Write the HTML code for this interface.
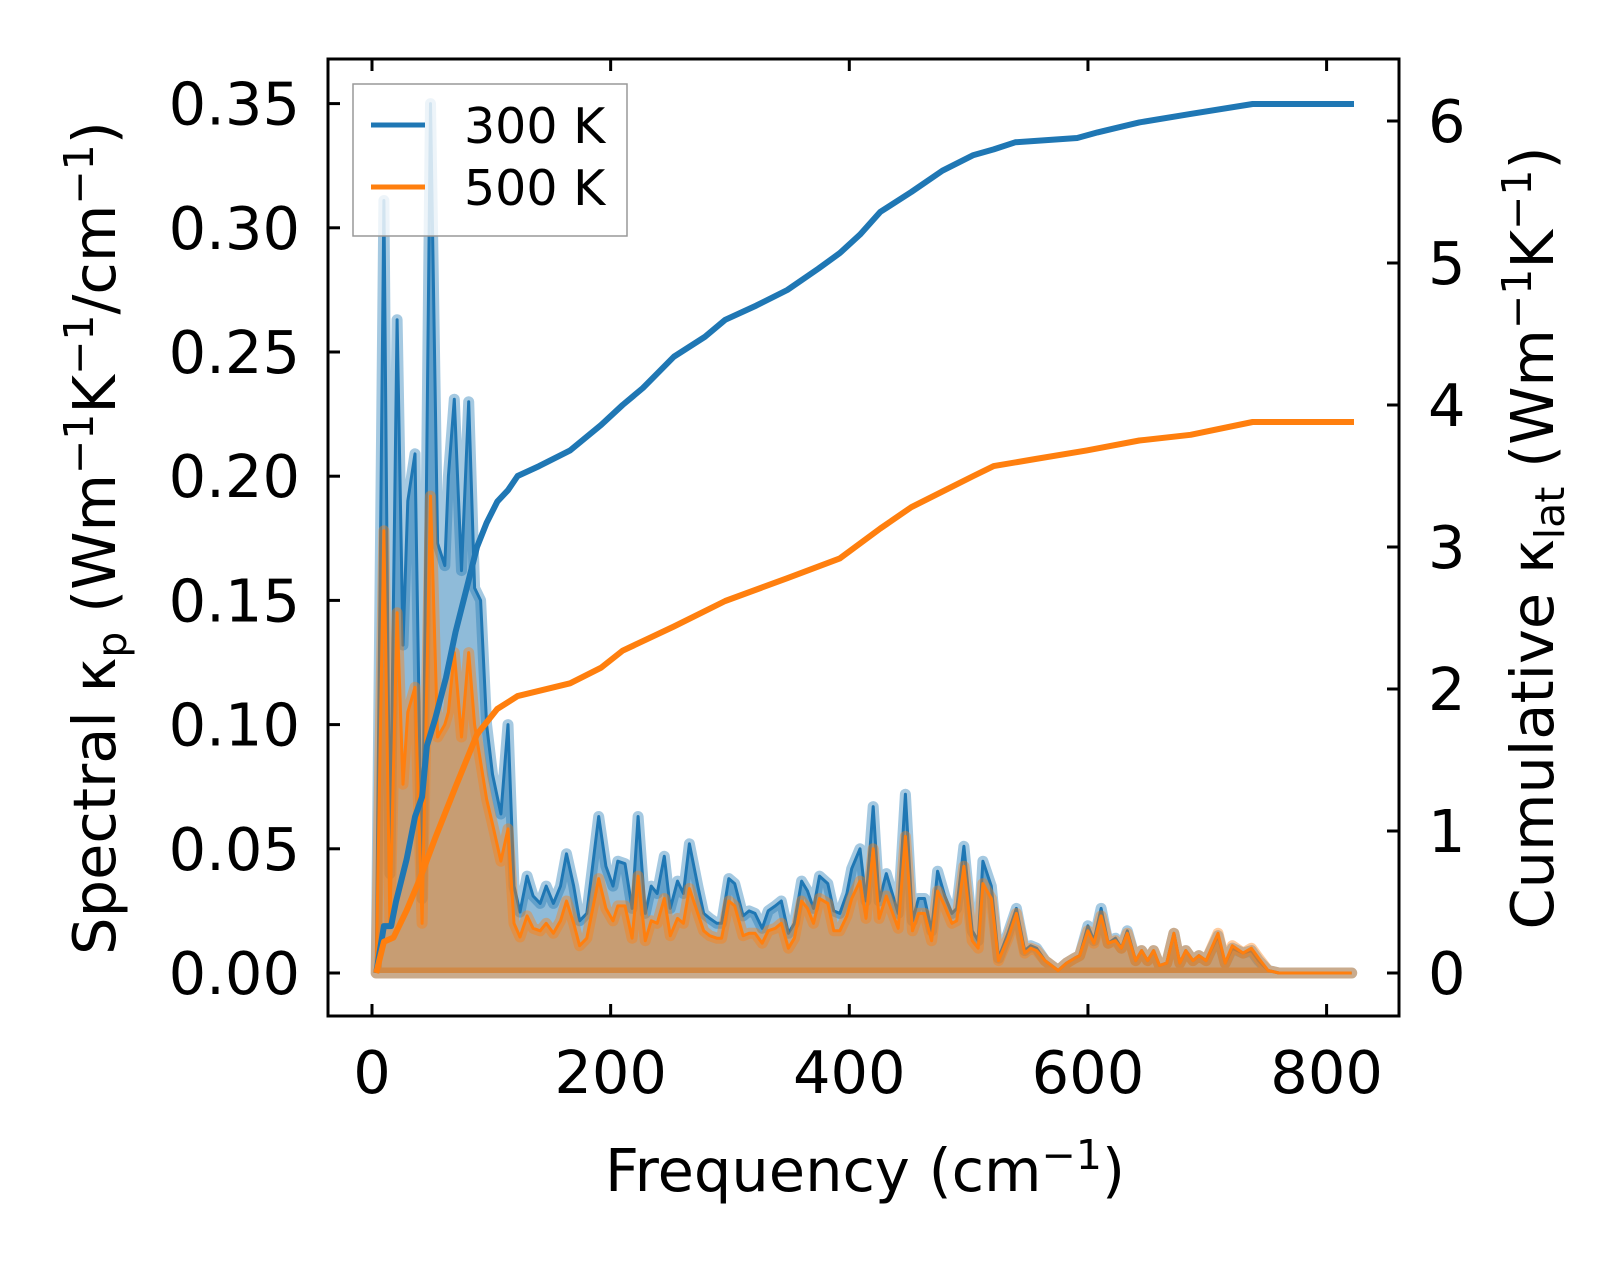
<!DOCTYPE html>
<html><head><meta charset="utf-8"><style>
html,body{margin:0;padding:0;background:#fff}
svg{display:block}
text{font-family:"DejaVu Sans","Liberation Sans",sans-serif;fill:#000}
</style></head><body>
<svg id="chart" width="1623" height="1264" viewBox="0 0 1623 1264" xmlns="http://www.w3.org/2000/svg">
<g id="plot"></g>
<g id="axes"></g>
</svg>
<script>
const freqs = [3.5,10,15,21,26,30,36,42,49,55,61,64,69,75,81,86,91,96,101,108,114,119,
124,130,135,141,146,152,158,163,169,174,180,190,196,202,206,212,218,223,229,234,239,245,250,256,261,266,273,278,283,289,293,299,304,311,316,321,327,332,338,343,349,354,360,365,370,375,382,387,392,398,402,409,414,420,425,431,441,447,453,458,463,469,474,480,486,490,496,503,508,512,519,525,533,540,547,552,557,564,575,582,589,593,600,605,611,617,623,628,633,640,645,650,655,660,666,672,677,682,688,693,699,709,715,721,730,737,743,751,760,821];
const spec300 = [0,0.311,0.04,0.263,0.132,0.19,0.209,0.03,0.35,0.173,0.164,0.2,0.231,0.162,0.23,0.155,0.15,0.1,0.08,0.064,0.1,0.035,
.0245,.039,.031,.028,.035,.028,.035,.048,.035,.021,.024,.063,.043,.035,.045,.044,.026,.063,.024,.035,.032,.047,.026,.037,.032,.052,.035,.024,.022,.020,.020,.038,.036,.023,.025,.024,.018,.025,.027,.029,.016,.020,.037,.033,.026,.039,.036,.025,.024,.032,.042,.050,.029,.067,.029,.040,.024,.072,.021,.030,.030,.017,.041,.031,.024,.026,.051,.017,.013,.045,.035,.006,.016,.026,.009,.011,.010,.005,.001,.004,.006,.007,.019,.013,.026,.012,.014,.010,.017,.005,.009,.005,.009,.003,.004,.016,.004,.009,.005,.007,.005,.015,.004,.010,.008,.009,.005,.001,0,0];
const spec500 = [0,0.178,0.02,0.145,0.076,0.105,0.115,0.02,0.192,0.095,0.1,0.105,0.129,0.095,0.129,0.1,0.085,0.07,0.06,0.045,0.058,0.02,
.0145,.023,.018,.017,.02,.016,.021,.029,.02,.011,.014,.038,.026,.021,.027,.027,.014,.039,.013,.021,.02,.03,.015,.022,.02,.034,.024,.017,.015,.014,.014,.029,.027,.015,.016,.016,.012,.017,.018,.02,.01,.014,.029,.026,.02,.03,.028,.017,.017,.023,.03,.037,.022,.05,.022,.031,.018,.055,.017,.024,.024,.013,.033,.027,.02,.021,.043,.013,.010,.036,.03,.005,.014,.024,.008,.01,.009,.005,.001,.004,.006,.007,.017,.012,.023,.012,.013,.01,.016,.005,.009,.005,.009,.003,.004,.016,.004,.009,.005,.007,.005,.016,.004,.011,.008,.01,.006,.001,0,0];
const cumFreq300 = [3.5,10,16,20,29,36,42,46,53,62,70,79,88,96,105,114,122,140,166,192,210,227,253,279,296,322,348,374,392,409,426,452,478,504,521,539,591,608,643,686,738,823];
const cum300 = [0,0.33,0.33,0.5,0.8,1.1,1.24,1.6,1.79,2.08,2.4,2.7,3.0,3.17,3.32,3.4,3.5,3.57,3.68,3.86,4.0,4.12,4.34,4.48,4.6,4.7,4.81,4.96,5.07,5.2,5.36,5.5,5.65,5.76,5.8,5.85,5.88,5.92,5.99,6.05,6.12,6.12];
const cumFreq500 = [3.5,10,18,29,40,53,70,88,105,122,166,192,210,253,296,348,392,426,452,478,504,521,556,599,643,686,738,823];
const cum500 = [0,0.22,0.25,0.44,0.66,0.95,1.31,1.68,1.86,1.95,2.04,2.15,2.27,2.44,2.62,2.78,2.92,3.13,3.28,3.39,3.5,3.57,3.62,3.68,3.75,3.79,3.88,3.88];
const xTicks = [0,200,400,600,800];
const yTicks = [0,0.05,0.10,0.15,0.20,0.25,0.30,0.35];
const yTickLabels = ["0.00","0.05","0.10","0.15","0.20","0.25","0.30","0.35"];
const y2Ticks = [0,1,2,3,4,5,6];

const NS="http://www.w3.org/2000/svg";
const L=328,R=1399,T=59,B=1016;
function X(f){return 372+f*1.19325;}
function Y(v){return 973-v*2484;}
function Y2(c){return 973-c*142;}
const plot=document.getElementById('plot'), axes=document.getElementById('axes');
function mk(tag,attrs,parent){const e=document.createElementNS(NS,tag);for(const k in attrs)e.setAttribute(k,attrs[k]);parent.appendChild(e);return e;}

function drawSpec(vals,color,name){
  let pts=freqs.map((f,i)=>X(f).toFixed(1)+','+Y(vals[i]).toFixed(1));
  let d='M'+X(freqs[0])+','+Y(0)+' L'+pts.join(' L')+' L'+X(freqs[freqs.length-1])+','+Y(0)+' Z';
  const fill=mk('path',{d:d,fill:color,'fill-opacity':0.5,stroke:'none'},plot);
  
  
  const glow=mk('path',{d:d,fill:'none',stroke:color,'stroke-opacity':0.4,'stroke-width':11,'stroke-linejoin':'round'},plot);
  
  
  const line=mk('polyline',{points:pts.join(' '),fill:'none',stroke:color,'stroke-width':3,'stroke-linejoin':'round'},plot);
  
  
}
drawSpec(spec300,'#1f77b4','spectral-300k');
drawSpec(spec500,'#ff7f0e','spectral-500k');
function drawCum(fr,vals,color,name){
  const pts=fr.map((f,i)=>X(f).toFixed(1)+','+Y2(vals[i]).toFixed(1)).join(' ');
  const l=mk('polyline',{points:pts,fill:'none',stroke:color,'stroke-width':6,'stroke-linejoin':'round'},plot);
  
  
}
drawCum(cumFreq300,cum300,'#1f77b4','cumulative-300k');
drawCum(cumFreq500,cum500,'#ff7f0e','cumulative-500k');

const fr=mk('rect',{x:L,y:T,width:R-L,height:B-T,fill:'none',stroke:'#000','stroke-width':3},axes);


const TL=12;
xTicks.forEach(t=>{
  const x=X(t);
  mk('line',{x1:x,x2:x,y1:B,y2:B-TL,stroke:'#000','stroke-width':3},axes);
  mk('line',{x1:x,x2:x,y1:T,y2:T+TL,stroke:'#000','stroke-width':3},axes);
  const tx=mk('text',{x:x,y:1093,'text-anchor':'middle','font-size':59},axes);
  tx.textContent=t;
  
  
});
yTicks.forEach((t,i)=>{
  const y=Y(t);
  mk('line',{x1:L,x2:L+TL,y1:y,y2:y,stroke:'#000','stroke-width':3},axes);
  const tx=mk('text',{x:300,y:y+21,'text-anchor':'end','font-size':59},axes);
  tx.textContent=yTickLabels[i];
  
  
});
y2Ticks.forEach(t=>{
  const y=Y2(t);
  mk('line',{x1:R,x2:R-TL,y1:y,y2:y,stroke:'#000','stroke-width':3},axes);
  const tx=mk('text',{x:1428,y:y+21,'text-anchor':'start','font-size':59},axes);
  tx.textContent=t;
  
  
});
</script>
<svg style="position:absolute;left:0;top:0" width="1623" height="1264">
<text x="865" y="1191" text-anchor="middle" font-size="59">Frequency (cm<tspan dy="-22" font-size="41">−1</tspan><tspan dy="22">)</tspan></text>
<text transform="translate(115,538) rotate(-90)" text-anchor="middle" font-size="59">Spectral κ<tspan dy="11" font-size="41">p</tspan><tspan dy="-11"> (Wm</tspan><tspan dy="-22" font-size="41">−1</tspan><tspan dy="22">K</tspan><tspan dy="-22" font-size="41">−1</tspan><tspan dy="22">/cm</tspan><tspan dy="-22" font-size="41">−1</tspan><tspan dy="22">)</tspan></text>
<text transform="translate(1553,538) rotate(-90)" text-anchor="middle" font-size="59">Cumulative κ<tspan dy="11" font-size="41">lat</tspan><tspan dy="-11"> (Wm</tspan><tspan dy="-22" font-size="41">−1</tspan><tspan dy="22">K</tspan><tspan dy="-22" font-size="41">−1</tspan><tspan dy="22">)</tspan></text>
<g>
<rect x="353" y="84" width="274" height="152" fill="#fff" fill-opacity="0.8" stroke="#999" stroke-width="1.5"/>
<line x1="371" x2="425" y1="125" y2="125" stroke="#1f77b4" stroke-width="5"/>
<text x="464" y="143" font-size="49">300 K</text>
<line x1="371" x2="425" y1="187" y2="187" stroke="#ff7f0e" stroke-width="5"/>
<text x="464" y="205" font-size="49">500 K</text>
</g>
</svg>
</body></html>
